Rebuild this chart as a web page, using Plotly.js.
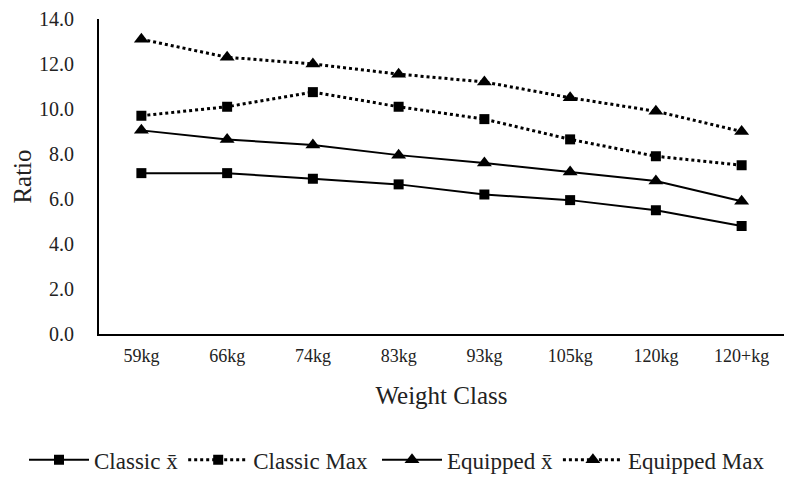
<!DOCTYPE html>
<html>
<head>
<meta charset="utf-8">
<script src="https://cdn.plot.ly/plotly-3.0.1.min.js"></script>
<style>html,body{margin:0;padding:0;background:#fff;}#chart{width:795px;height:482px;}</style>
</head>
<body>
<div id="chart"></div>
<script>
const categories = ["59kg", "66kg", "74kg", "83kg", "93kg", "105kg", "120kg", "120+kg"];
const classicMean = [7.15, 7.15, 6.9, 6.65, 6.2, 5.95, 5.5, 4.8];
const classicMax = [9.7, 10.1, 10.75, 10.1, 9.55, 8.65, 7.9, 7.5];
const equippedMean = [9.05, 8.65, 8.4, 7.95, 7.6, 7.2, 6.8, 5.9];
const equippedMax = [13.1, 12.3, 12.0, 11.55, 11.2, 10.5, 9.9, 9.0];
const yTicks = [0, 2, 4, 6, 8, 10, 12, 14];

const FONT = "Liberation Serif, 'DejaVu Serif', serif";

function series(name, y, dash, symbol, msize, lw, legendId) {
  return {
    type: "scatter", mode: "lines+markers", name: name,
    x: categories, y: y, legend: legendId,
    line: {color: "#000", width: lw, dash: dash},
    marker: {color: "#000", symbol: symbol, size: msize}
  };
}

const data = [
  series("Classic x\u0304", classicMean, "solid", "square", 10, 2, "legend"),
  series("Classic Max", classicMax, "dot", "square", 10, 3, "legend"),
  series("Equipped x\u0304", equippedMean, "solid", "triangle-up", 13, 2, "legend2"),
  series("Equipped Max", equippedMax, "dot", "triangle-up", 13, 3, "legend2")
];

function legendBox(xpx) {
  return {
    orientation: "h", x: xpx / 795, xref: "container", xanchor: "left",
    y: 0.046, yref: "container", yanchor: "middle",
    font: {family: FONT, size: 23, color: "#222"},
    itemwidth: 60, tracegroupgap: 0, borderwidth: 0, bgcolor: "rgba(0,0,0,0)"
  };
}

const layout = {
  width: 795, height: 482,
  margin: {l: 99, r: 11, t: 19, b: 148},
  paper_bgcolor: "#fff", plot_bgcolor: "#fff",
  font: {family: FONT, color: "#222", size: 18},
  showlegend: true,
  legend: legendBox(24),
  legend2: legendBox(377),
  xaxis: {
    type: "category", automargin: false,
    showline: true, linecolor: "#000", linewidth: 2,
    showgrid: false, zeroline: false, ticks: "", ticklabelstandoff: 4,
    tickfont: {family: FONT, size: 18, color: "#222"},
    title: {text: "Weight Class", font: {family: FONT, size: 25, color: "#222"}, standoff: 22}
  },
  yaxis: {
    range: [0, 14], tickvals: yTicks, tickformat: ".1f", automargin: false,
    showline: true, linecolor: "#000", linewidth: 2,
    showgrid: false, zeroline: false, ticks: "", ticklabelstandoff: 19,
    tickfont: {family: FONT, size: 20, color: "#222"},
    title: {text: "Ratio", font: {family: FONT, size: 25, color: "#222"}, standoff: 0}
  }
};

Plotly.newPlot("chart", data, layout, {displayModeBar: false, staticPlot: true});
</script>
</body>
</html>
